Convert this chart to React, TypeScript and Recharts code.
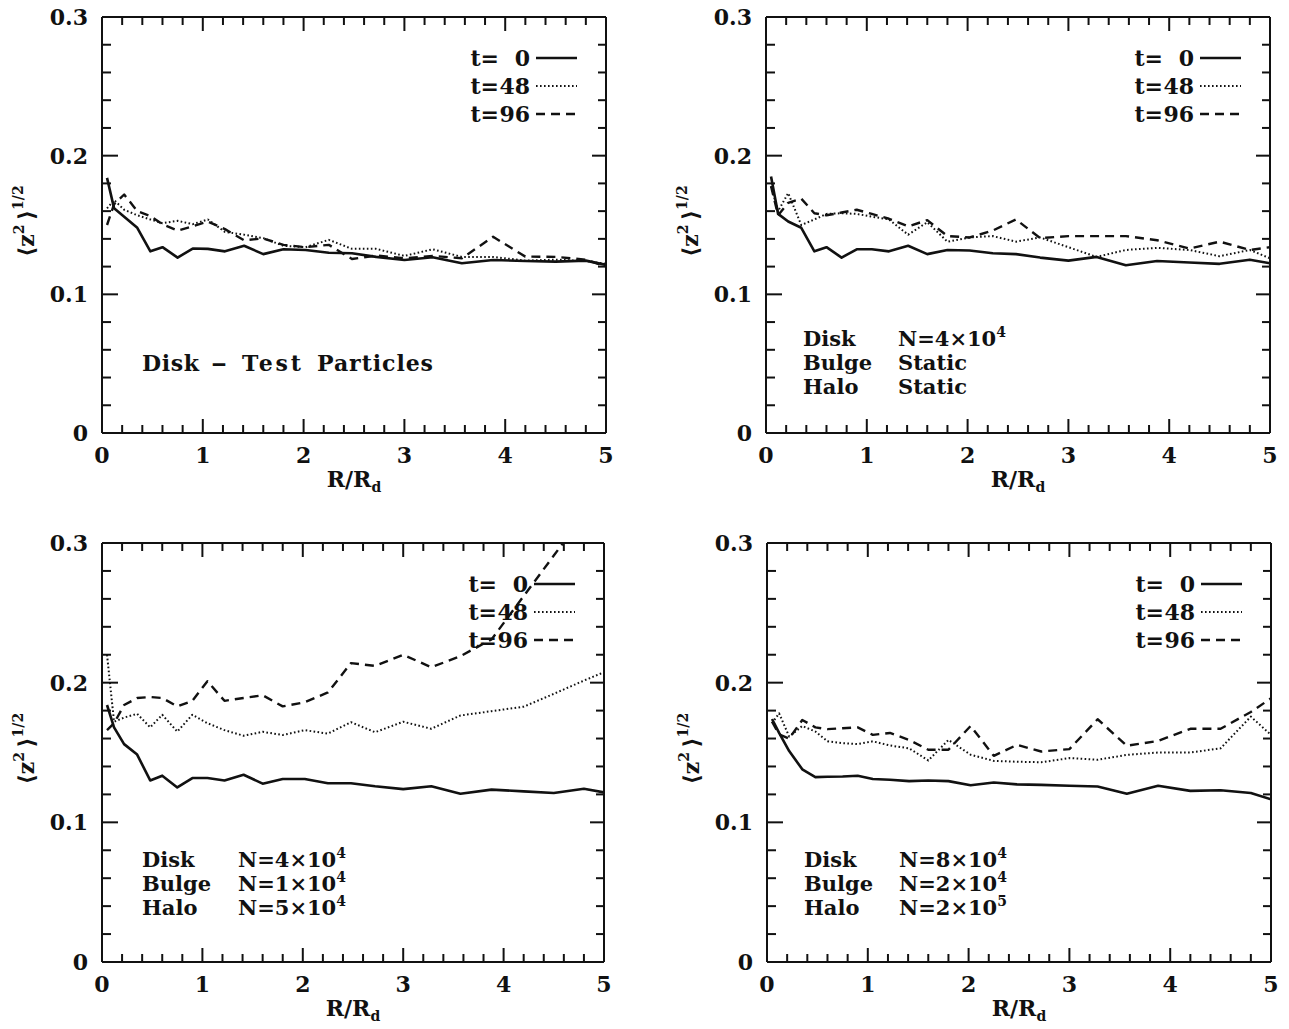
import React from 'react';
import { LineChart, Line, XAxis, YAxis } from 'recharts';

// radial bins R/Rd shared by all panels
const R = [0.05, 0.12, 0.22, 0.35, 0.48, 0.6, 0.75, 0.9, 1.05, 1.22, 1.41, 1.6, 1.8, 2.02, 2.25, 2.48, 2.72, 3.0, 3.28, 3.57, 3.88, 4.2, 4.5, 4.8, 5.0];

// top-left: disk of test particles
const A_T0 = [0.184, 0.162, 0.156, 0.148, 0.131, 0.134, 0.1265, 0.133, 0.1328, 0.131, 0.135, 0.129, 0.1325, 0.132, 0.13, 0.1296, 0.127, 0.1248, 0.1267, 0.1224, 0.1248, 0.124, 0.1236, 0.1243, 0.1212];
const A_T48 = [0.162, 0.168, 0.161, 0.157, 0.154, 0.1513, 0.153, 0.1506, 0.154, 0.145, 0.143, 0.1405, 0.135, 0.134, 0.1393, 0.1328, 0.1328, 0.1277, 0.1325, 0.127, 0.127, 0.1243, 0.125, 0.124, 0.122];
const A_T96 = [0.15, 0.165, 0.172, 0.16, 0.1565, 0.1505, 0.146, 0.149, 0.1525, 0.147, 0.139, 0.1403, 0.1357, 0.134, 0.1357, 0.1255, 0.128, 0.126, 0.1277, 0.126, 0.1415, 0.1272, 0.127, 0.125, 0.12];

// top-right: live disk, static bulge + halo
const B_T0 = [0.185, 0.158, 0.1525, 0.148, 0.131, 0.134, 0.1265, 0.1325, 0.1325, 0.131, 0.135, 0.129, 0.132, 0.1316, 0.1296, 0.129, 0.1265, 0.1243, 0.127, 0.121, 0.124, 0.123, 0.122, 0.125, 0.1224];
const B_T48 = [0.178, 0.16, 0.173, 0.15, 0.154, 0.158, 0.1585, 0.158, 0.156, 0.154, 0.143, 0.152, 0.138, 0.141, 0.142, 0.138, 0.141, 0.134, 0.127, 0.132, 0.1335, 0.132, 0.1275, 0.132, 0.126];
const B_T96 = [0.178, 0.157, 0.166, 0.169, 0.1585, 0.157, 0.159, 0.161, 0.158, 0.1545, 0.149, 0.1535, 0.142, 0.141, 0.146, 0.154, 0.1405, 0.142, 0.142, 0.142, 0.139, 0.133, 0.138, 0.132, 0.134];

// bottom-left: N-body disk, bulge, halo
const C_T0 = [0.184, 0.168, 0.156, 0.1485, 0.13, 0.1334, 0.125, 0.1317, 0.1317, 0.13, 0.1341, 0.1277, 0.131, 0.131, 0.128, 0.128, 0.1258, 0.1238, 0.1258, 0.1205, 0.1234, 0.1222, 0.121, 0.124, 0.1214];
const C_T48 = [0.22, 0.172, 0.175, 0.1777, 0.168, 0.177, 0.165, 0.177, 0.171, 0.166, 0.162, 0.1648, 0.1625, 0.166, 0.1635, 0.1717, 0.1645, 0.172, 0.167, 0.1765, 0.1796, 0.1828, 0.192, 0.2015, 0.2075];
const C_T96 = [0.166, 0.171, 0.184, 0.189, 0.1897, 0.189, 0.183, 0.187, 0.201, 0.187, 0.189, 0.191, 0.183, 0.186, 0.193, 0.214, 0.212, 0.22, 0.211, 0.219, 0.231, 0.262, 0.291, 0.32, 0.34];

// bottom-right: higher resolution run
const D_T0 = [0.174, 0.164, 0.151, 0.138, 0.1324, 0.1326, 0.1328, 0.1334, 0.131, 0.1305, 0.1295, 0.13, 0.1295, 0.1265, 0.1285, 0.1272, 0.1268, 0.1262, 0.1257, 0.1205, 0.1262, 0.1225, 0.123, 0.121, 0.1165];
const D_T48 = [0.171, 0.178, 0.1614, 0.169, 0.165, 0.158, 0.1567, 0.156, 0.158, 0.155, 0.153, 0.1443, 0.159, 0.1484, 0.144, 0.1434, 0.143, 0.146, 0.1448, 0.1483, 0.15, 0.15, 0.153, 0.1757, 0.1626];
const D_T96 = [0.172, 0.163, 0.16, 0.1733, 0.168, 0.1667, 0.1674, 0.168, 0.1626, 0.164, 0.159, 0.152, 0.152, 0.169, 0.1476, 0.1555, 0.1507, 0.1524, 0.1738, 0.1548, 0.1583, 0.167, 0.167, 0.179, 0.1888];

const X_TICKS = [0, 0.2, 0.4, 0.6, 0.8, 1, 1.2, 1.4, 1.6, 1.8, 2, 2.2, 2.4, 2.6, 2.8, 3, 3.2, 3.4, 3.6, 3.8, 4, 4.2, 4.4, 4.6, 4.8, 5];
const Y_TICKS = [0, 0.02, 0.04, 0.06, 0.08, 0.1, 0.12, 0.14, 0.16, 0.18, 0.2, 0.22, 0.24, 0.26, 0.28, 0.3];
const LEGEND_T = ['0', '48', '96'];

const NOTE_A = [['Disk', '\u2013', 'Test', 'Particles']];
const NOTE_B = [['Disk', 'N=4\u00d710', '4'], ['Bulge', 'Static'], ['Halo', 'Static']];
const NOTE_C = [['Disk', 'N=4\u00d710', '4'], ['Bulge', 'N=1\u00d710', '4'], ['Halo', 'N=5\u00d710', '4']];
const NOTE_D = [['Disk', 'N=8\u00d710', '4'], ['Bulge', 'N=2\u00d710', '4'], ['Halo', 'N=2\u00d710', '5']];

const FONT = "'DejaVu Serif', 'Liberation Serif', serif";
const INK = '#111';

const STYLES = [
  { key: 't0', dash: undefined, w: 2.6 },
  { key: 't48', dash: '1.6 2.4', w: 2 },
  { key: 't96', dash: '9 6', w: 2.4 },
];

const txt = { fontFamily: FONT, fontWeight: 700, fontSize: 22, fill: INK } as const;
const note = { ...txt, fontSize: 21 } as const;

const majorX = (v: number) => Math.abs(v - Math.round(v)) < 1e-6;
const majorY = (v: number) => Math.abs(v * 10 - Math.round(v * 10)) < 1e-6;

const BottomTick = ({ x, y, payload }: any) => {
  const m = majorX(payload.value);
  return (
    <g>
      <line x1={x} x2={x} y1={y} y2={y - (m ? 14 : 8)} stroke={INK} strokeWidth={2} />
      {m && <text x={x} y={y + 30} textAnchor="middle" {...txt}>{payload.value}</text>}
    </g>
  );
};
const TopTick = ({ x, y, payload }: any) => {
  const m = majorX(payload.value);
  return <line x1={x} x2={x} y1={y} y2={y + (m ? 14 : 8)} stroke={INK} strokeWidth={2} />;
};
const LeftTick = ({ x, y, payload }: any) => {
  const m = majorY(payload.value);
  return (
    <g>
      <line x1={x} x2={x + (m ? 16 : 9)} y1={y} y2={y} stroke={INK} strokeWidth={2} />
      {m && <text x={x - 14} y={y + 8} textAnchor="end" {...txt}>{String(Math.round(payload.value * 10) / 10)}</text>}
    </g>
  );
};
const RightTick = ({ x, y, payload }: any) => {
  const m = majorY(payload.value);
  return <line x1={x} x2={x - (m ? 14 : 8)} y1={y} y2={y} stroke={INK} strokeWidth={2} />;
};

const XTitle = ({ viewBox }: any) => (
  <text x={viewBox.x + viewBox.width / 2} y={viewBox.y + 54} textAnchor="middle" {...txt}>
    R/R<tspan fontSize={14} dy={5}>d</tspan>
  </text>
);
const YTitle = ({ viewBox }: any) => {
  const cx = viewBox.x + viewBox.width - 76;
  const cy = viewBox.y + viewBox.height / 2 - 4;
  return (
    <text transform={`rotate(-90 ${cx} ${cy})`} x={cx} y={cy + 8} textAnchor="middle" {...txt}>
      {'\u27e8z'}
      <tspan fontSize={14} dy={-10}>2</tspan>
      <tspan dy={10}>{'\u2009\u27e9'}</tspan>
      <tspan fontSize={14} dy={-11}>1/2</tspan>
    </text>
  );
};

const PANELS = [
  { id: 'a', box: { left: 0, top: 0, w: 644, h: 514 }, plot: { l: 102, r: 606, t: 17, b: 433 }, s: [A_T0, A_T48, A_T96], notes: NOTE_A, nx: [40, 132], ny: [62] },
  { id: 'b', box: { left: 644, top: 0, w: 645, h: 514 }, plot: { l: 766, r: 1270, t: 17, b: 433 }, s: [B_T0, B_T48, B_T96], notes: NOTE_B, nx: [37, 132], ny: [87, 63, 39] },
  { id: 'c', box: { left: 0, top: 514, w: 644, h: 515 }, plot: { l: 102, r: 604, t: 543, b: 962 }, s: [C_T0, C_T48, C_T96], notes: NOTE_C, nx: [40, 136], ny: [95, 71, 47] },
  { id: 'd', box: { left: 644, top: 514, w: 645, h: 515 }, plot: { l: 767, r: 1271, t: 543, b: 962 }, s: [D_T0, D_T48, D_T96], notes: NOTE_D, nx: [37, 132], ny: [95, 71, 47] },
];

// x offsets and widths of the words in the single-line note of the first panel
const NOTE_A_X = [40, 109, 140, 215];
const NOTE_A_W = [57, 16, 59, 116];

const Panel = ({ p }: any) => {
  const data = R.map((r, i) => ({ r, t0: p.s[0][i], t48: p.s[1][i], t96: p.s[2][i] }));
  // axes are 1px thick, so the plot box keeps the intended pixel edges
  const margin = {
    left: p.plot.l - p.box.left - 1,
    right: p.box.left + p.box.w - p.plot.r - 1,
    top: p.plot.t - p.box.top - 1,
    bottom: p.box.top + p.box.h - p.plot.b - 1,
  };
  const axisLine = { stroke: INK, strokeWidth: 2 };
  return (
    <div style={{ position: 'absolute', left: p.box.left, top: p.box.top }}>
      <LineChart width={p.box.w} height={p.box.h} data={data} margin={margin}>
        <XAxis dataKey="r" type="number" domain={[0, 5]} allowDataOverflow ticks={X_TICKS} interval={0} height={1} tickSize={0} tickMargin={0}
          axisLine={axisLine} tickLine={false} tick={<BottomTick />} label={{ content: (lp: any) => <XTitle {...lp} /> }} />
        <XAxis xAxisId="top" orientation="top" dataKey="r" type="number" domain={[0, 5]} allowDataOverflow ticks={X_TICKS} interval={0} height={1} tickSize={0} tickMargin={0}
          axisLine={axisLine} tickLine={false} tick={<TopTick />} />
        <YAxis type="number" domain={[0, 0.3]} allowDataOverflow ticks={Y_TICKS} interval={0} width={1} tickSize={0} tickMargin={0}
          axisLine={axisLine} tickLine={false} tick={<LeftTick />} label={{ content: (lp: any) => <YTitle {...lp} /> }} />
        <YAxis yAxisId="right" orientation="right" type="number" domain={[0, 0.3]} allowDataOverflow ticks={Y_TICKS} interval={0} width={1} tickSize={0} tickMargin={0}
          axisLine={axisLine} tickLine={false} tick={<RightTick />} />
        {STYLES.map((st) => (
          <Line key={st.key} dataKey={st.key} type="linear" stroke={INK} strokeWidth={st.w} strokeDasharray={st.dash}
            dot={false} activeDot={false} isAnimationActive={false} strokeLinejoin="round" />
        ))}
      </LineChart>
    </div>
  );
};

const Overlay = () => (
  <svg width={1289} height={1029} style={{ position: 'absolute', left: 0, top: 0, pointerEvents: 'none' }}>
    {PANELS.map((p) => (
      <g key={p.id}>
        {LEGEND_T.map((t, i) => {
          const ly = p.plot.t + [41, 69, 97][i];
          const st = STYLES[i];
          return (
            <g key={t}>
              <text x={p.plot.r - 107} y={ly + 8} textAnchor="end" {...txt}>t=</text>
              <text x={p.plot.r - 76} y={ly + 8} textAnchor="end" {...txt}>{t}</text>
              <line x1={p.plot.r - 70} x2={p.plot.r - 29} y1={ly} y2={ly} stroke={INK} strokeWidth={st.w} strokeDasharray={st.dash} />
            </g>
          );
        })}
        {p.id === 'a'
          ? p.notes[0].map((w: string, k: number) => (
              <text key={k} x={p.plot.l + NOTE_A_X[k]} y={p.plot.b - p.ny[0]} textLength={NOTE_A_W[k]}
                lengthAdjust={k === 1 ? 'spacingAndGlyphs' : 'spacing'} {...txt}>{w}</text>
            ))
          : p.notes.map((row: string[], i: number) => (
              <g key={i}>
                <text x={p.plot.l + p.nx[0]} y={p.plot.b - p.ny[i]} {...note}>{row[0]}</text>
                <text x={p.plot.l + p.nx[1]} y={p.plot.b - p.ny[i]} {...note}>
                  {row[1]}
                  {row[2] && <tspan fontSize={14} dy={-9}>{row[2]}</tspan>}
                </text>
              </g>
            ))}
      </g>
    ))}
  </svg>
);

export default function App() {
  return (
    <div style={{ position: 'absolute', left: 0, top: 0, width: 1289, height: 1029, background: '#fff' }}>
      {PANELS.map((p) => <Panel key={p.id} p={p} />)}
      <Overlay />
    </div>
  );
}
